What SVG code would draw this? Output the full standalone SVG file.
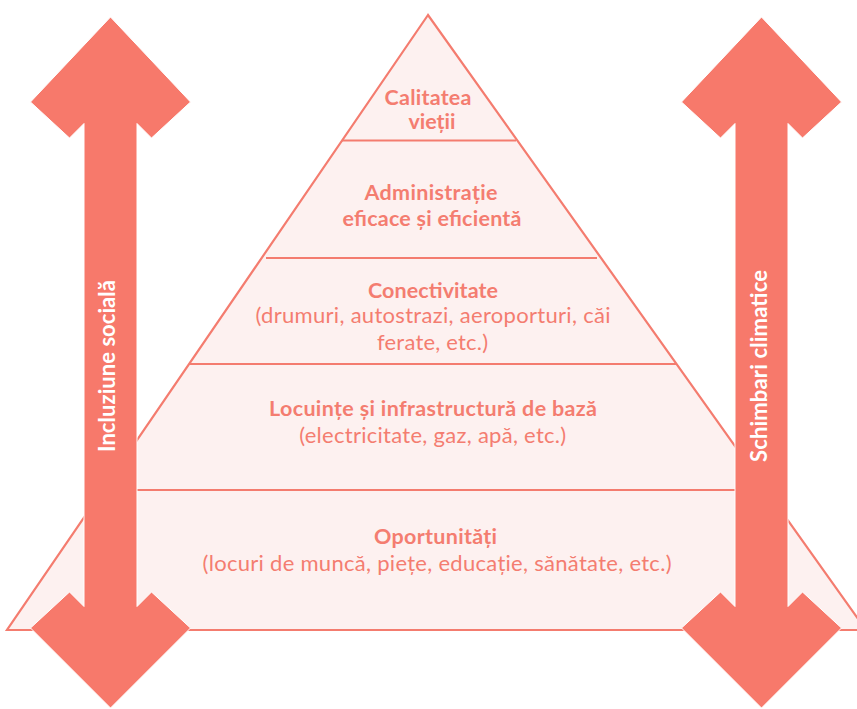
<svg xmlns="http://www.w3.org/2000/svg" width="857" height="709" viewBox="0 0 857 709">
<style>
.tier{fill:#FDF1F0;stroke:#F47C6F;stroke-width:2.2}
.sep{stroke:#F47C6F;stroke-width:2.2}
.arrow{fill:#F7796B;stroke:#FFFFFF;stroke-width:1}
.h{font-family:Lato,"Open Sans",sans-serif;font-weight:bold;font-size:21.5px;fill:#F47D70;text-anchor:middle}
.s{font-family:Lato,"Open Sans",sans-serif;font-size:22px;fill:#F47D70;text-anchor:middle}
.v{font-family:Lato,"Open Sans",sans-serif;font-weight:bold;font-size:22px;fill:#FFFFFF;text-anchor:middle}
</style>
<rect width="857" height="709" fill="#FFFFFF"/>
<g id="pyramid">
<polygon class="tier" points="428,15 7,630 866,630"/>
</g>
<g id="connectors">
<line class="sep" x1="342" y1="140.5" x2="516" y2="140.5"/>
<line class="sep" x1="266" y1="258" x2="597" y2="258"/>
<line class="sep" x1="189" y1="364" x2="676" y2="364"/>
<line class="sep" x1="103" y1="490" x2="766" y2="490"/>
</g>
<g id="tier1">
<text class="h" x="428" y="105" textLength="87">Calitatea</text>
<text class="h" x="432" y="129">vieții</text>
</g>
<g id="tier2">
<text class="h" x="431" y="200" textLength="133">Administrație</text>
<text class="h" x="432" y="226" textLength="179">eficace și eficientă</text>
</g>
<g id="tier3">
<text class="h" x="433" y="298" textLength="130">Conectivitate</text>
<text class="s" x="433" y="323" textLength="355">(drumuri, autostrazi, aeroporturi, căi</text>
<text class="s" x="432.5" y="350" textLength="111">ferate, etc.)</text>
</g>
<g id="tier4">
<text class="h" x="433" y="416" textLength="328">Locuințe și infrastructură de bază</text>
<text class="s" x="432.7" y="443" textLength="267">(electricitate, gaz, apă, etc.)</text>
</g>
<g id="tier5">
<text class="h" x="435.5" y="544" textLength="123">Oportunități</text>
<text class="s" x="437" y="571" textLength="469">(locuri de muncă, piețe, educație, sănătate, etc.)</text>
</g>
<g id="arrow-left">
<polygon class="arrow" points="110.5,17 190.5,102 151.5,138 137,123.5 137,606.5 151.5,592 190.5,628 110.5,708 30.5,628 69.5,592 84,606.5 84,123.5 69.5,138 30.5,102"/>
<text class="v" transform="translate(114.5,366) rotate(-90)" textLength="172">Incluziune socială</text>
</g>
<g id="arrow-right">
<polygon class="arrow" points="761.5,17 841.5,102 802.5,138 788,123.5 788,606.5 802.5,592 841.5,628 761.5,708 681.5,628 720.5,592 735,606.5 735,123.5 720.5,138 681.5,102"/>
<text class="v" transform="translate(766.5,366) rotate(-90)" textLength="192">Schimbari climatice</text>
</g>
</svg>
